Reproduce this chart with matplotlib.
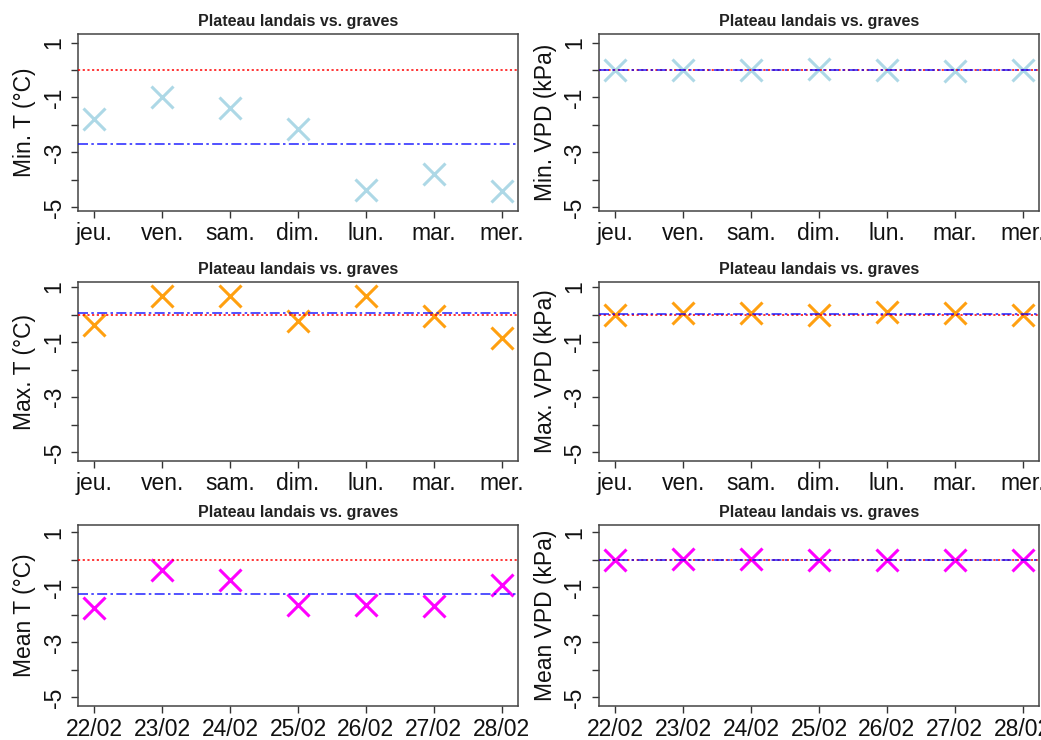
import numpy as np
import matplotlib
matplotlib.use("Agg")
import matplotlib.pyplot as plt

plt.rcParams['font.family'] = ['Liberation Sans', 'DejaVu Sans']

# Données (écart Plateau landais - graves)
jours = ["jeu.", "ven.", "sam.", "dim.", "lun.", "mar.", "mer."]
dates = ["22/02", "23/02", "24/02", "25/02", "26/02", "27/02", "28/02"]

tmin = [-1.80, -0.97, -1.40, -2.13, -4.38, -3.77, -4.42]
tmax = [-0.37, 0.66, 0.66, -0.25, 0.66, -0.04, -0.85]
tmoy = [-1.74, -0.37, -0.73, -1.64, -1.64, -1.66, -0.92]

vpd_min = [0.00, 0.00, 0.01, 0.02, -0.01, -0.02, 0.01]
vpd_max = [-0.02, 0.06, 0.06, -0.02, 0.08, 0.04, -0.02]
vpd_moy = [0.00, 0.02, 0.02, -0.02, 0.00, 0.00, 0.00]

titre = "Plateau landais vs. graves"

# (valeurs, couleur, label y, labels x) par panneau, ligne par ligne
panneaux = [
    [(tmin, "#ADD8E6", "Min. T (°C)", jours), (vpd_min, "#ADD8E6", "Min. VPD (kPa)", jours)],
    [(tmax, "#FFA010", "Max. T (°C)", jours), (vpd_max, "#FFA010", "Max. VPD (kPa)", jours)],
    [(tmoy, "#FF00FF", "Mean T (°C)", dates), (vpd_moy, "#FF00FF", "Mean VPD (kPa)", dates)],
]

# Position des cadres en pixels (haut, bas) et (gauche, droite)
W, H = 1041, 740
lignes_px = [(34, 211), (282, 461), (525, 706)]
colonnes_px = [(78, 518), (599, 1039)]
ylims = [(-5.13, 1.31), (-5.31, 1.18), (-5.31, 1.27)]

fig = plt.figure(figsize=(W / 100, H / 100), dpi=100)

for i, ligne in enumerate(panneaux):
    y0, y1 = lignes_px[i]
    for j, (vals, couleur, ylab, xlabs) in enumerate(ligne):
        x0, x1 = colonnes_px[j]
        ax = fig.add_axes([x0 / W, 1 - y1 / H, (x1 - x0) / W, (y1 - y0) / H])
        x = np.arange(1, 8)
        ax.plot(x, vals, linestyle='none', marker='x', color=couleur,
                markersize=16, markeredgewidth=2.2, zorder=2)
        # ligne de référence à zéro et moyenne de la série
        ax.axhline(0, color='red', lw=1.3, linestyle=(0, (1.2, 1.4)), alpha=0.85, zorder=3)
        ax.axhline(np.mean(vals), color='blue', lw=1.2, linestyle=(0, (6, 2, 1.5, 2)),
                   alpha=0.8, zorder=3)

        ax.set_xlim(0.76, 7.24)
        ax.set_ylim(*ylims[i])
        ax.set_xticks(x)
        ax.set_xticklabels(xlabs, fontsize=16.5, color='#111111')
        ax.set_yticks(range(-5, 2))
        ax.set_yticklabels([str(v) if v % 2 else "" for v in range(-5, 2)],
                           fontsize=16.5, rotation=90, va='center', color='#111111')
        ax.tick_params(axis='both', direction='out', length=5, width=1, color='#333333')
        ax.tick_params(axis='y', pad=4)
        ax.tick_params(axis='x', pad=3.8 if i == 2 else 3)
        for sp in ax.spines.values():
            sp.set_color('#444444')
            sp.set_linewidth(1.1)

        ax.set_ylabel(ylab, fontsize=16.5, color='#111111')
        ax.yaxis.set_label_coords(-0.096, 0.5)
        ax.set_title(titre, fontsize=11.5, fontweight='bold', color='#222222', pad=6)

fig.savefig("out.png", dpi=100)
